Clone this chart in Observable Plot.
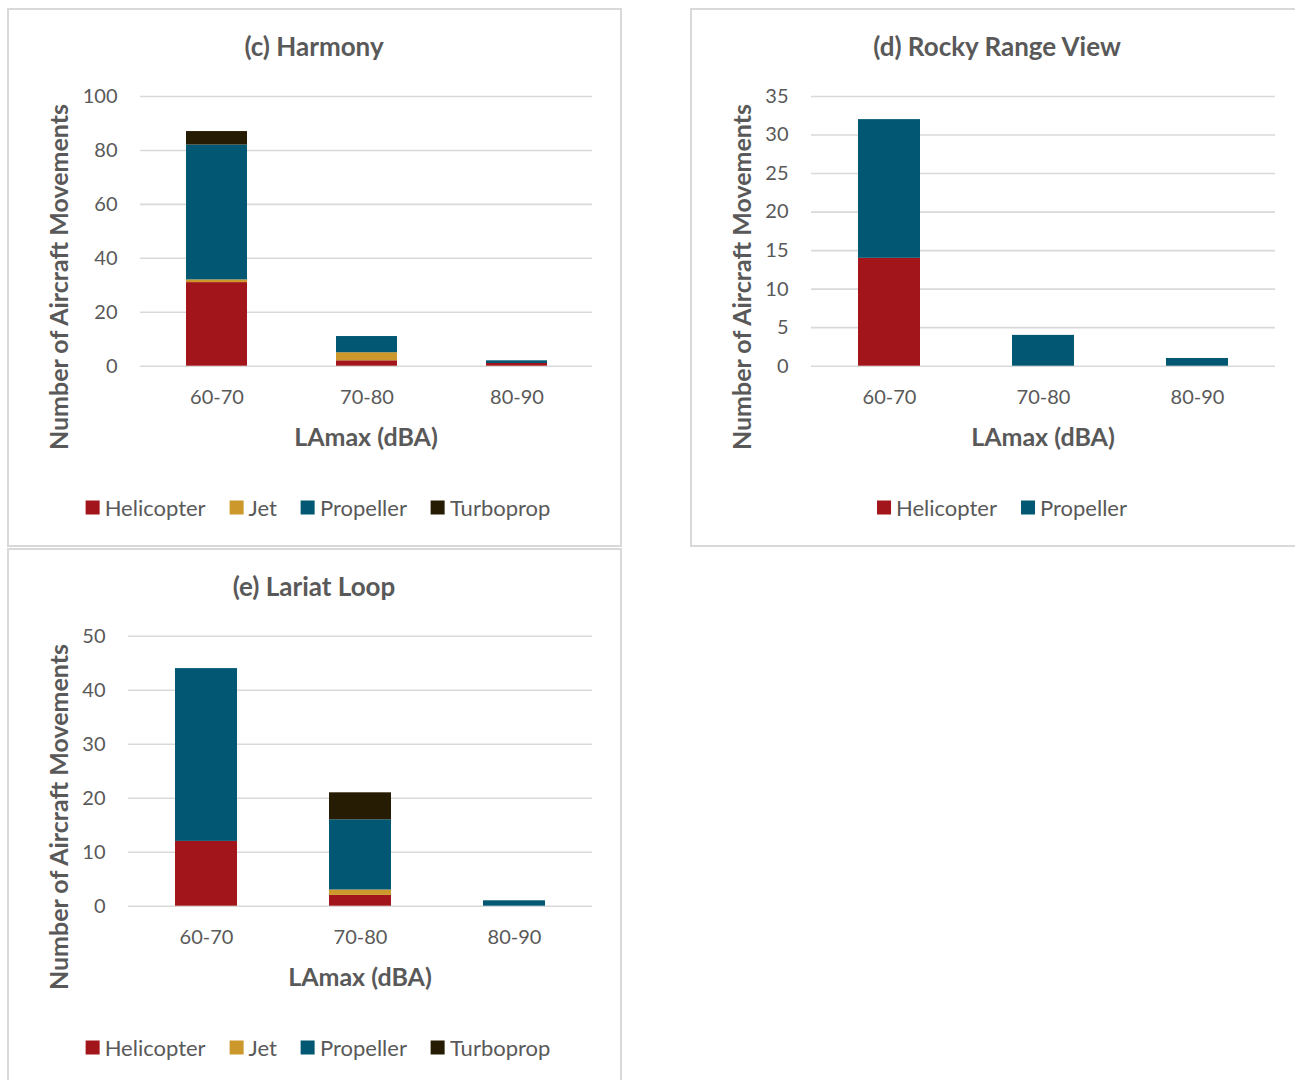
<!DOCTYPE html>
<html>
<head>
<meta charset="utf-8">
<script src="https://cdn.jsdelivr.net/npm/d3@7"></script>
<script src="https://cdn.jsdelivr.net/npm/@observablehq/plot@0.6"></script>
<style>
  html, body { margin: 0; padding: 0; background: #fff; }
  body { width: 1295px; height: 1080px; position: relative; overflow: hidden; font-family: Lato, "Open Sans", sans-serif; color: #595959; }
  .panel { position: absolute; border: 2px solid #d9d9d9; box-sizing: border-box; background: #fff; }
  .abs { position: absolute; white-space: nowrap; }
  .title { font-weight: bold; font-size: 26px; transform: translate(-50%, -50%); }
  .xtitle { font-weight: bold; font-size: 25px; transform: translate(-50%, -50%); }
  .ytitle { font-weight: bold; font-size: 25px; transform: translate(-50%, -50%) rotate(-90deg); }
  .legend { display: flex; align-items: center; transform: translate(-50%, -50%); font-size: 22px; }
  .legend .item { display: flex; align-items: center; margin: 0 12px; }
  .legend .sw { width: 14px; height: 14px; margin-right: 5px; }
  .plot { position: absolute; }
</style>
</head>
<body>
<script>
// ---- Data ----
const bins = ["60-70", "70-80", "80-90"];
const types = ["Helicopter", "Jet", "Propeller", "Turboprop"];
const typeColors = ["#a2161b", "#cc982b", "#025872", "#261c04"];

const harmonyHelicopter = [31, 2, 1];
const harmonyJet = [1, 3, 0];
const harmonyPropeller = [50, 6, 1];
const harmonyTurboprop = [5, 0, 0];

const rockyHelicopter = [14, 0, 0];
const rockyPropeller = [18, 4, 1];

const lariatHelicopter = [12, 2, 0];
const lariatJet = [0, 1, 0];
const lariatPropeller = [32, 13, 1];
const lariatTurboprop = [0, 5, 0];

const harmonyTicks = [0, 20, 40, 60, 80, 100];
const rockyTicks = [0, 5, 10, 15, 20, 25, 30, 35];
const lariatTicks = [0, 10, 20, 30, 40, 50];

const titleC = "(c) Harmony";
const titleD = "(d) Rocky Range View";
const titleE = "(e) Lariat Loop";
const xLabel = "LAmax (dBA)";
const yLabel = "Number of Aircraft Movements";

// ---- Build ----
function toRows(series) {
  const rows = [];
  for (const [type, vals] of series) {
    vals.forEach((v, i) => rows.push({bin: bins[i], type, count: v}));
  }
  return rows;
}

function el(cls, text, x, y) {
  const d = document.createElement("div");
  d.className = "abs " + cls;
  d.textContent = text;
  d.style.left = x + "px";
  d.style.top = y + "px";
  document.body.appendChild(d);
  return d;
}

function panel(cfg) {
  const p = document.createElement("div");
  p.className = "panel";
  Object.assign(p.style, {left: cfg.box[0] + "px", top: cfg.box[1] + "px", width: cfg.box[2] + "px", height: cfg.box[3] + "px"});
  document.body.appendChild(p);

  const rows = toRows(cfg.series);
  const usedTypes = cfg.series.map(s => s[0]);
  const chart = Plot.plot({
    width: cfg.svg.width,
    height: cfg.svg.height,
    marginLeft: cfg.svg.ml,
    marginRight: cfg.svg.mr,
    marginTop: cfg.svg.mt,
    marginBottom: cfg.svg.mb,
    style: {fontFamily: "Lato, 'Open Sans', sans-serif", fontSize: "20px", color: "#595959", background: "transparent", overflow: "visible"},
    x: {domain: bins, paddingInner: cfg.pad, paddingOuter: cfg.pad / 2, label: null},
    y: {domain: [0, cfg.ymax], label: null},
    color: {domain: types, range: typeColors},
    marks: [
      Plot.gridY(cfg.ticks, {stroke: "#d9d9d9", strokeOpacity: 1, strokeWidth: 1.6}),
      Plot.barY(rows, {x: "bin", y: "count", fill: "type"}),
      Plot.axisY(cfg.ticks, {tickSize: 0, tickPadding: 23, label: null, fontSize: 20}),
      Plot.axisX({tickSize: 0, tickPadding: 24, label: null, fontSize: 20})
    ]
  });
  chart.classList.add("plot");
  chart.style.left = cfg.svg.left + "px";
  chart.style.top = cfg.svg.top + "px";
  document.body.appendChild(chart);

  el("title", cfg.title, cfg.titlePos[0], cfg.titlePos[1]);
  el("xtitle", xLabel, cfg.xtPos[0], cfg.xtPos[1]);
  el("ytitle", yLabel, cfg.ytPos[0], cfg.ytPos[1]);

  const lg = document.createElement("div");
  lg.className = "abs legend";
  lg.style.left = cfg.legPos[0] + "px";
  lg.style.top = cfg.legPos[1] + "px";
  for (const t of usedTypes) {
    const it = document.createElement("div");
    it.className = "item";
    const sw = document.createElement("div");
    sw.className = "sw";
    sw.style.background = typeColors[types.indexOf(t)];
    const tx = document.createElement("span");
    tx.textContent = t;
    it.appendChild(sw); it.appendChild(tx);
    lg.appendChild(it);
  }
  document.body.appendChild(lg);
}

panel({
  box: [7, 8, 615, 539],
  svg: {left: 8, top: 60, width: 612, height: 370, ml: 132, mr: 28, mt: 36, mb: 64.3},
  pad: 0.595, ymax: 100, ticks: harmonyTicks,
  series: [["Helicopter", harmonyHelicopter], ["Jet", harmonyJet], ["Propeller", harmonyPropeller], ["Turboprop", harmonyTurboprop]],
  title: titleC, titlePos: [314, 46], xtPos: [366, 436], ytPos: [58, 277], legPos: [318, 507]
});

panel({
  box: [690, 8, 610, 539],
  svg: {left: 691, top: 60, width: 604, height: 370, ml: 120, mr: 20, mt: 36, mb: 64.3},
  pad: 0.6, ymax: 35, ticks: rockyTicks,
  series: [["Helicopter", rockyHelicopter], ["Propeller", rockyPropeller]],
  title: titleD, titlePos: [997, 46], xtPos: [1043, 436], ytPos: [741, 277], legPos: [1002, 507]
});

panel({
  box: [7, 548, 615, 540],
  svg: {left: 8, top: 600, width: 612, height: 370, ml: 120, mr: 28, mt: 35.7, mb: 64.3},
  pad: 0.6, ymax: 50, ticks: lariatTicks,
  series: [["Helicopter", lariatHelicopter], ["Jet", lariatJet], ["Propeller", lariatPropeller], ["Turboprop", lariatTurboprop]],
  title: titleE, titlePos: [314, 586], xtPos: [360, 976], ytPos: [58, 817], legPos: [318, 1047]
});
</script>
</body>
</html>
